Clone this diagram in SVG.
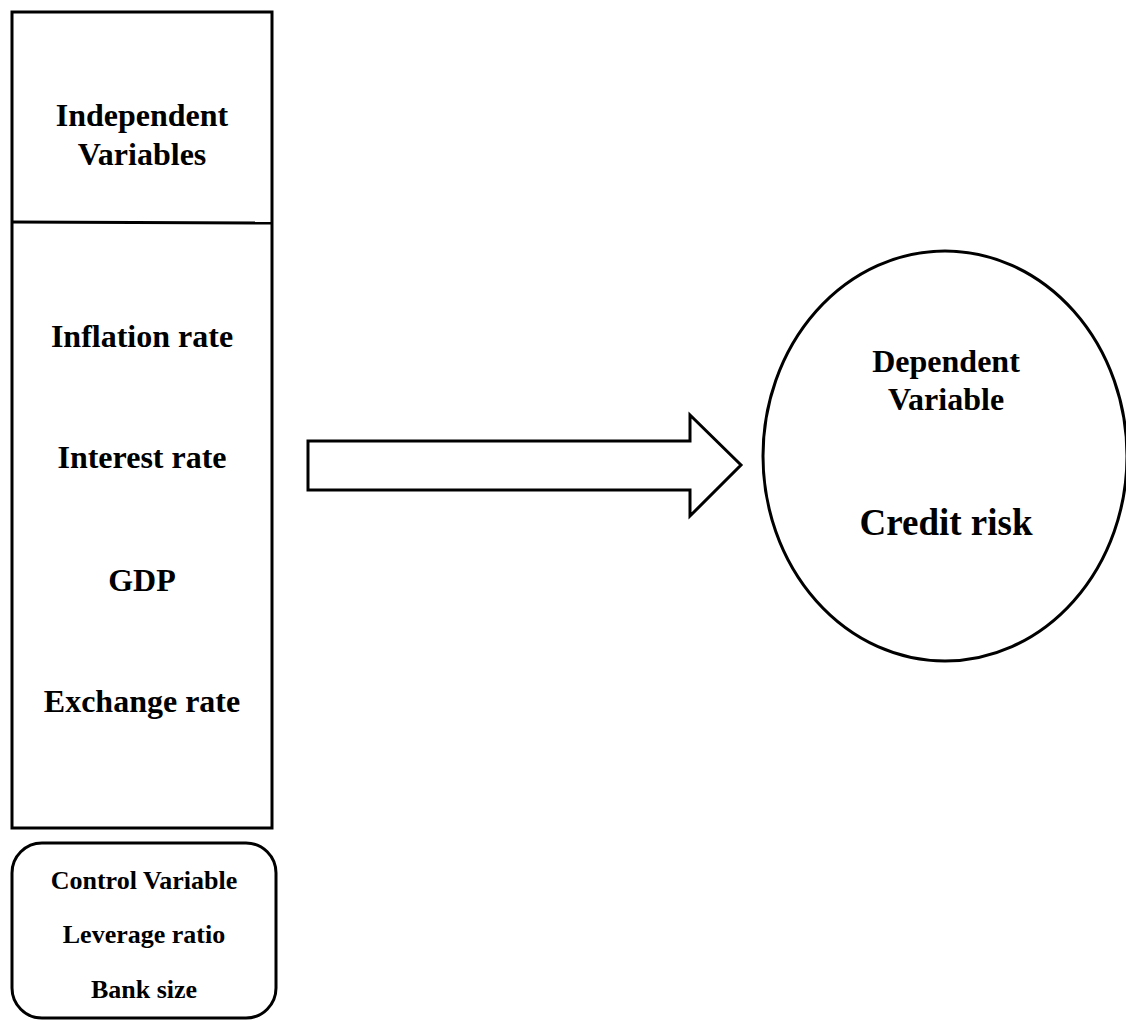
<svg xmlns="http://www.w3.org/2000/svg" width="1126" height="1020" viewBox="0 0 1126 1020">
<style>
.shape{fill:#fff;stroke:#000;stroke-width:3}
.t{font-family:"Liberation Serif","Times New Roman",serif;font-weight:bold;fill:#000;text-anchor:middle}
.m{font-size:32px}
.s{font-size:26px}
.l{font-size:37px}
</style>
<rect width="1126" height="1020" fill="#fff"/>
<g id="independent">
<rect class="shape" x="12" y="12" width="260" height="816"/>
<line x1="12" y1="222" x2="272" y2="223" stroke="#000" stroke-width="3"/>
<text class="t m" x="142" y="126">Independent</text>
<text class="t m" x="142" y="165">Variables</text>
<text class="t m" x="142" y="347">Inflation rate</text>
<text class="t m" x="142" y="468">Interest rate</text>
<text class="t m" x="142" y="591">GDP</text>
<text class="t m" x="142" y="712">Exchange rate</text>
</g>
<g id="control">
<rect class="shape" x="12" y="843" width="264" height="175" rx="30" ry="30"/>
<text class="t s" x="144" y="889">Control Variable</text>
<text class="t s" x="144" y="943">Leverage ratio</text>
<text class="t s" x="144" y="998">Bank size</text>
</g>
<g id="connectors">
<polygon class="shape" points="308,441 690,441 690,415 741,465 690,516 690,490 308,490"/>
</g>
<g id="dependent">
<ellipse class="shape" cx="945" cy="456" rx="182" ry="205"/>
<text class="t m" x="946" y="372">Dependent</text>
<text class="t m" x="946" y="410">Variable</text>
<text class="t l" x="946" y="535">Credit risk</text>
</g>
</svg>
